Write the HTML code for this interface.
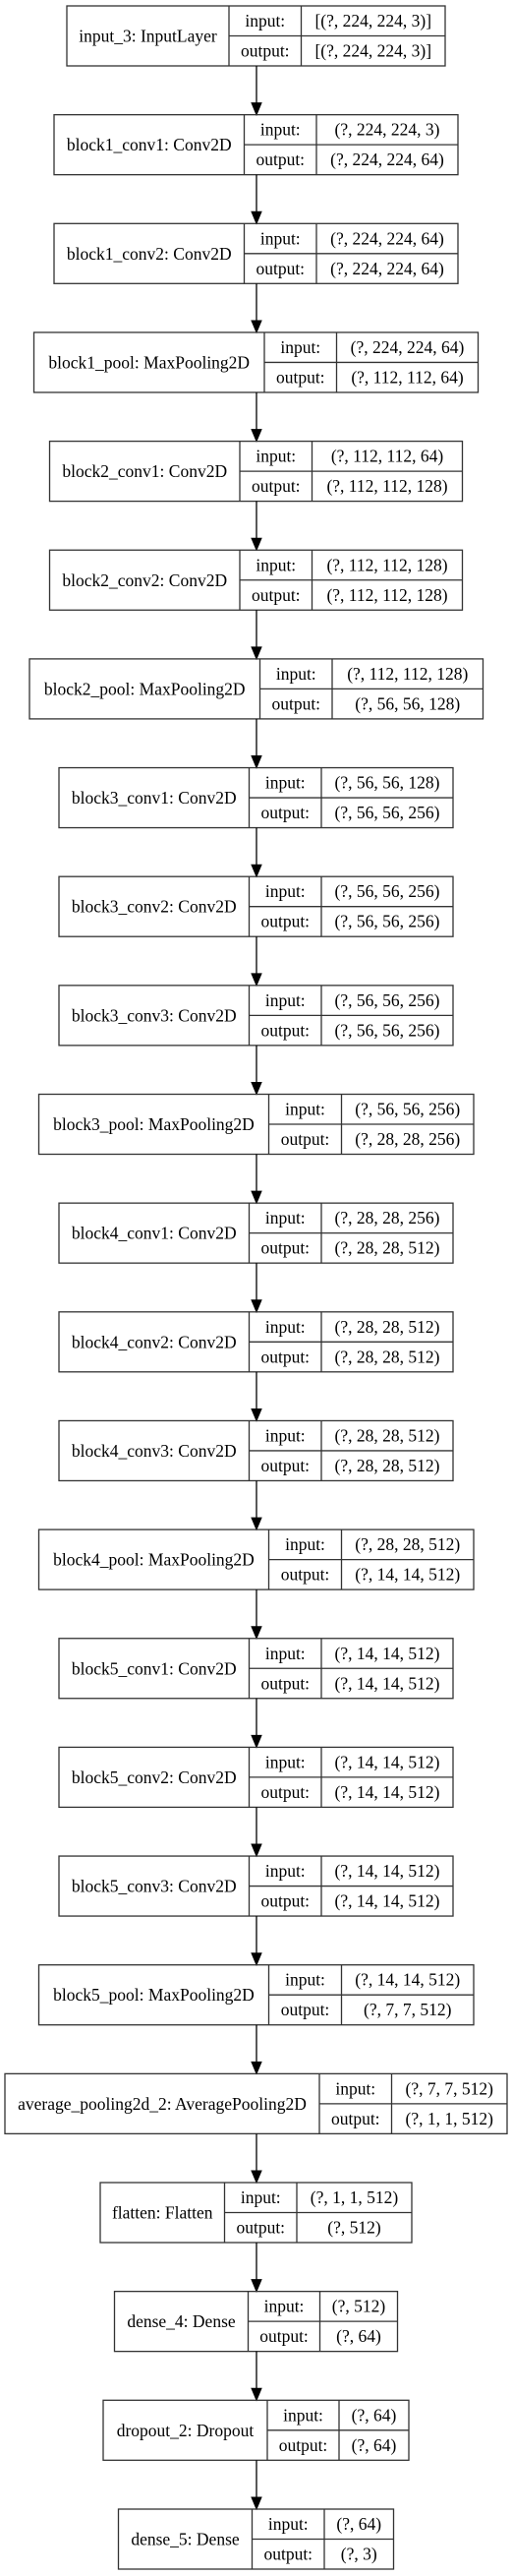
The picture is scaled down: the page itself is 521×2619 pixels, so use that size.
<!DOCTYPE html>
<html><head><meta charset="utf-8"><style>
html,body{margin:0;padding:0;background:#fff;}
svg{display:block;}
text{font-family:"Liberation Serif",serif;font-size:17.5px;fill:#000;text-anchor:middle;}
rect,line.b{fill:none;stroke:#333;stroke-width:1.3;}
line.a{stroke:#000;stroke-width:1.3;}
polygon{fill:#000;stroke:#000;}
</style></head><body>
<svg width="521" height="2619" viewBox="0 0 521 2619" xmlns="http://www.w3.org/2000/svg">
<defs><g id="arr"><line class="a" x1="261" y1="-49.65" x2="261" y2="-11"/><polygon points="256,-12 266,-12 261,0"/></g></defs>

<g transform="translate(0,6)"><rect x="68" y="0" width="385" height="61"/><line class="b" x1="233" y1="0" x2="233" y2="61"/><line class="b" x1="306.5" y1="0" x2="306.5" y2="61"/><line class="b" x1="233" y1="30.5" x2="453" y2="30.5"/>
<text x="150.5" y="36.5">input_3: InputLayer</text><text x="269.75" y="21">input:</text><text x="269.75" y="51.5">output:</text><text x="379.75" y="21">[(?, 224, 224, 3)]</text><text x="379.75" y="51.5">[(?, 224, 224, 3)]</text></g>

<g transform="translate(0,116.65)"><use href="#arr"/><rect x="55" y="0" width="411" height="61"/><line class="b" x1="248.5" y1="0" x2="248.5" y2="61"/><line class="b" x1="322" y1="0" x2="322" y2="61"/><line class="b" x1="248.5" y1="30.5" x2="466" y2="30.5"/>
<text x="151.75" y="36.5">block1_conv1: Conv2D</text><text x="285.25" y="21">input:</text><text x="285.25" y="51.5">output:</text><text x="394" y="21">(?, 224, 224, 3)</text><text x="394" y="51.5">(?, 224, 224, 64)</text></g>

<g transform="translate(0,227.3)"><use href="#arr"/><rect x="55" y="0" width="411" height="61"/><line class="b" x1="248.5" y1="0" x2="248.5" y2="61"/><line class="b" x1="322" y1="0" x2="322" y2="61"/><line class="b" x1="248.5" y1="30.5" x2="466" y2="30.5"/>
<text x="151.75" y="36.5">block1_conv2: Conv2D</text><text x="285.25" y="21">input:</text><text x="285.25" y="51.5">output:</text><text x="394" y="21">(?, 224, 224, 64)</text><text x="394" y="51.5">(?, 224, 224, 64)</text></g>

<g transform="translate(0,337.95)"><use href="#arr"/><rect x="34.5" y="0" width="452" height="61"/><line class="b" x1="269" y1="0" x2="269" y2="61"/><line class="b" x1="342.5" y1="0" x2="342.5" y2="61"/><line class="b" x1="269" y1="30.5" x2="486.5" y2="30.5"/>
<text x="151.75" y="36.5">block1_pool: MaxPooling2D</text><text x="305.75" y="21">input:</text><text x="305.75" y="51.5">output:</text><text x="414.5" y="21">(?, 224, 224, 64)</text><text x="414.5" y="51.5">(?, 112, 112, 64)</text></g>

<g transform="translate(0,448.6)"><use href="#arr"/><rect x="50.5" y="0" width="420" height="61"/><line class="b" x1="244" y1="0" x2="244" y2="61"/><line class="b" x1="317.5" y1="0" x2="317.5" y2="61"/><line class="b" x1="244" y1="30.5" x2="470.5" y2="30.5"/>
<text x="147.25" y="36.5">block2_conv1: Conv2D</text><text x="280.75" y="21">input:</text><text x="280.75" y="51.5">output:</text><text x="394" y="21">(?, 112, 112, 64)</text><text x="394" y="51.5">(?, 112, 112, 128)</text></g>

<g transform="translate(0,559.25)"><use href="#arr"/><rect x="50.5" y="0" width="420" height="61"/><line class="b" x1="244" y1="0" x2="244" y2="61"/><line class="b" x1="317.5" y1="0" x2="317.5" y2="61"/><line class="b" x1="244" y1="30.5" x2="470.5" y2="30.5"/>
<text x="147.25" y="36.5">block2_conv2: Conv2D</text><text x="280.75" y="21">input:</text><text x="280.75" y="51.5">output:</text><text x="394" y="21">(?, 112, 112, 128)</text><text x="394" y="51.5">(?, 112, 112, 128)</text></g>

<g transform="translate(0,669.9)"><use href="#arr"/><rect x="30" y="0" width="461.5" height="61"/><line class="b" x1="264.5" y1="0" x2="264.5" y2="61"/><line class="b" x1="338" y1="0" x2="338" y2="61"/><line class="b" x1="264.5" y1="30.5" x2="491.5" y2="30.5"/>
<text x="147.25" y="36.5">block2_pool: MaxPooling2D</text><text x="301.25" y="21">input:</text><text x="301.25" y="51.5">output:</text><text x="414.75" y="21">(?, 112, 112, 128)</text><text x="414.75" y="51.5">(?, 56, 56, 128)</text></g>

<g transform="translate(0,780.55)"><use href="#arr"/><rect x="60" y="0" width="401" height="61"/><line class="b" x1="253.5" y1="0" x2="253.5" y2="61"/><line class="b" x1="327" y1="0" x2="327" y2="61"/><line class="b" x1="253.5" y1="30.5" x2="461" y2="30.5"/>
<text x="156.75" y="36.5">block3_conv1: Conv2D</text><text x="290.25" y="21">input:</text><text x="290.25" y="51.5">output:</text><text x="394" y="21">(?, 56, 56, 128)</text><text x="394" y="51.5">(?, 56, 56, 256)</text></g>

<g transform="translate(0,891.2)"><use href="#arr"/><rect x="60" y="0" width="401" height="61"/><line class="b" x1="253.5" y1="0" x2="253.5" y2="61"/><line class="b" x1="327" y1="0" x2="327" y2="61"/><line class="b" x1="253.5" y1="30.5" x2="461" y2="30.5"/>
<text x="156.75" y="36.5">block3_conv2: Conv2D</text><text x="290.25" y="21">input:</text><text x="290.25" y="51.5">output:</text><text x="394" y="21">(?, 56, 56, 256)</text><text x="394" y="51.5">(?, 56, 56, 256)</text></g>

<g transform="translate(0,1001.85)"><use href="#arr"/><rect x="60" y="0" width="401" height="61"/><line class="b" x1="253.5" y1="0" x2="253.5" y2="61"/><line class="b" x1="327" y1="0" x2="327" y2="61"/><line class="b" x1="253.5" y1="30.5" x2="461" y2="30.5"/>
<text x="156.75" y="36.5">block3_conv3: Conv2D</text><text x="290.25" y="21">input:</text><text x="290.25" y="51.5">output:</text><text x="394" y="21">(?, 56, 56, 256)</text><text x="394" y="51.5">(?, 56, 56, 256)</text></g>

<g transform="translate(0,1112.5)"><use href="#arr"/><rect x="39.5" y="0" width="442.5" height="61"/><line class="b" x1="273.5" y1="0" x2="273.5" y2="61"/><line class="b" x1="347.5" y1="0" x2="347.5" y2="61"/><line class="b" x1="273.5" y1="30.5" x2="482" y2="30.5"/>
<text x="156.5" y="36.5">block3_pool: MaxPooling2D</text><text x="310.5" y="21">input:</text><text x="310.5" y="51.5">output:</text><text x="414.75" y="21">(?, 56, 56, 256)</text><text x="414.75" y="51.5">(?, 28, 28, 256)</text></g>

<g transform="translate(0,1223.15)"><use href="#arr"/><rect x="60" y="0" width="401" height="61"/><line class="b" x1="253.5" y1="0" x2="253.5" y2="61"/><line class="b" x1="327" y1="0" x2="327" y2="61"/><line class="b" x1="253.5" y1="30.5" x2="461" y2="30.5"/>
<text x="156.75" y="36.5">block4_conv1: Conv2D</text><text x="290.25" y="21">input:</text><text x="290.25" y="51.5">output:</text><text x="394" y="21">(?, 28, 28, 256)</text><text x="394" y="51.5">(?, 28, 28, 512)</text></g>

<g transform="translate(0,1333.8)"><use href="#arr"/><rect x="60" y="0" width="401" height="61"/><line class="b" x1="253.5" y1="0" x2="253.5" y2="61"/><line class="b" x1="327" y1="0" x2="327" y2="61"/><line class="b" x1="253.5" y1="30.5" x2="461" y2="30.5"/>
<text x="156.75" y="36.5">block4_conv2: Conv2D</text><text x="290.25" y="21">input:</text><text x="290.25" y="51.5">output:</text><text x="394" y="21">(?, 28, 28, 512)</text><text x="394" y="51.5">(?, 28, 28, 512)</text></g>

<g transform="translate(0,1444.45)"><use href="#arr"/><rect x="60" y="0" width="401" height="61"/><line class="b" x1="253.5" y1="0" x2="253.5" y2="61"/><line class="b" x1="327" y1="0" x2="327" y2="61"/><line class="b" x1="253.5" y1="30.5" x2="461" y2="30.5"/>
<text x="156.75" y="36.5">block4_conv3: Conv2D</text><text x="290.25" y="21">input:</text><text x="290.25" y="51.5">output:</text><text x="394" y="21">(?, 28, 28, 512)</text><text x="394" y="51.5">(?, 28, 28, 512)</text></g>

<g transform="translate(0,1555.1)"><use href="#arr"/><rect x="39.5" y="0" width="442.5" height="61"/><line class="b" x1="273.5" y1="0" x2="273.5" y2="61"/><line class="b" x1="347.5" y1="0" x2="347.5" y2="61"/><line class="b" x1="273.5" y1="30.5" x2="482" y2="30.5"/>
<text x="156.5" y="36.5">block4_pool: MaxPooling2D</text><text x="310.5" y="21">input:</text><text x="310.5" y="51.5">output:</text><text x="414.75" y="21">(?, 28, 28, 512)</text><text x="414.75" y="51.5">(?, 14, 14, 512)</text></g>

<g transform="translate(0,1665.75)"><use href="#arr"/><rect x="60" y="0" width="401" height="61"/><line class="b" x1="253.5" y1="0" x2="253.5" y2="61"/><line class="b" x1="327" y1="0" x2="327" y2="61"/><line class="b" x1="253.5" y1="30.5" x2="461" y2="30.5"/>
<text x="156.75" y="36.5">block5_conv1: Conv2D</text><text x="290.25" y="21">input:</text><text x="290.25" y="51.5">output:</text><text x="394" y="21">(?, 14, 14, 512)</text><text x="394" y="51.5">(?, 14, 14, 512)</text></g>

<g transform="translate(0,1776.4)"><use href="#arr"/><rect x="60" y="0" width="401" height="61"/><line class="b" x1="253.5" y1="0" x2="253.5" y2="61"/><line class="b" x1="327" y1="0" x2="327" y2="61"/><line class="b" x1="253.5" y1="30.5" x2="461" y2="30.5"/>
<text x="156.75" y="36.5">block5_conv2: Conv2D</text><text x="290.25" y="21">input:</text><text x="290.25" y="51.5">output:</text><text x="394" y="21">(?, 14, 14, 512)</text><text x="394" y="51.5">(?, 14, 14, 512)</text></g>

<g transform="translate(0,1887.05)"><use href="#arr"/><rect x="60" y="0" width="401" height="61"/><line class="b" x1="253.5" y1="0" x2="253.5" y2="61"/><line class="b" x1="327" y1="0" x2="327" y2="61"/><line class="b" x1="253.5" y1="30.5" x2="461" y2="30.5"/>
<text x="156.75" y="36.5">block5_conv3: Conv2D</text><text x="290.25" y="21">input:</text><text x="290.25" y="51.5">output:</text><text x="394" y="21">(?, 14, 14, 512)</text><text x="394" y="51.5">(?, 14, 14, 512)</text></g>

<g transform="translate(0,1997.7)"><use href="#arr"/><rect x="39.5" y="0" width="442.5" height="61"/><line class="b" x1="273.5" y1="0" x2="273.5" y2="61"/><line class="b" x1="347.5" y1="0" x2="347.5" y2="61"/><line class="b" x1="273.5" y1="30.5" x2="482" y2="30.5"/>
<text x="156.5" y="36.5">block5_pool: MaxPooling2D</text><text x="310.5" y="21">input:</text><text x="310.5" y="51.5">output:</text><text x="414.75" y="21">(?, 14, 14, 512)</text><text x="414.75" y="51.5">(?, 7, 7, 512)</text></g>

<g transform="translate(0,2108.35)"><use href="#arr"/><rect x="5" y="0" width="511" height="61"/><line class="b" x1="325" y1="0" x2="325" y2="61"/><line class="b" x1="398.5" y1="0" x2="398.5" y2="61"/><line class="b" x1="325" y1="30.5" x2="516" y2="30.5"/>
<text x="165" y="36.5">average_pooling2d_2: AveragePooling2D</text><text x="361.75" y="21">input:</text><text x="361.75" y="51.5">output:</text><text x="457.25" y="21">(?, 7, 7, 512)</text><text x="457.25" y="51.5">(?, 1, 1, 512)</text></g>

<g transform="translate(0,2219)"><use href="#arr"/><rect x="102" y="0" width="317" height="61"/><line class="b" x1="228.5" y1="0" x2="228.5" y2="61"/><line class="b" x1="302" y1="0" x2="302" y2="61"/><line class="b" x1="228.5" y1="30.5" x2="419" y2="30.5"/>
<text x="165.25" y="36.5">flatten: Flatten</text><text x="265.25" y="21">input:</text><text x="265.25" y="51.5">output:</text><text x="360.5" y="21">(?, 1, 1, 512)</text><text x="360.5" y="51.5">(?, 512)</text></g>

<g transform="translate(0,2329.65)"><use href="#arr"/><rect x="116.5" y="0" width="288" height="61"/><line class="b" x1="252.5" y1="0" x2="252.5" y2="61"/><line class="b" x1="325.5" y1="0" x2="325.5" y2="61"/><line class="b" x1="252.5" y1="30.5" x2="404.5" y2="30.5"/>
<text x="184.5" y="36.5">dense_4: Dense</text><text x="289" y="21">input:</text><text x="289" y="51.5">output:</text><text x="365" y="21">(?, 512)</text><text x="365" y="51.5">(?, 64)</text></g>

<g transform="translate(0,2440.3)"><use href="#arr"/><rect x="105" y="0" width="311" height="61"/><line class="b" x1="272" y1="0" x2="272" y2="61"/><line class="b" x1="345" y1="0" x2="345" y2="61"/><line class="b" x1="272" y1="30.5" x2="416" y2="30.5"/>
<text x="188.5" y="36.5">dropout_2: Dropout</text><text x="308.5" y="21">input:</text><text x="308.5" y="51.5">output:</text><text x="380.5" y="21">(?, 64)</text><text x="380.5" y="51.5">(?, 64)</text></g>

<g transform="translate(0,2551)"><use href="#arr"/><rect x="120.5" y="0" width="280" height="61"/><line class="b" x1="256.5" y1="0" x2="256.5" y2="61"/><line class="b" x1="330" y1="0" x2="330" y2="61"/><line class="b" x1="256.5" y1="30.5" x2="400.5" y2="30.5"/>
<text x="188.5" y="36.5">dense_5: Dense</text><text x="293.25" y="21">input:</text><text x="293.25" y="51.5">output:</text><text x="365.25" y="21">(?, 64)</text><text x="365.25" y="51.5">(?, 3)</text></g>
</svg>
</body></html>
